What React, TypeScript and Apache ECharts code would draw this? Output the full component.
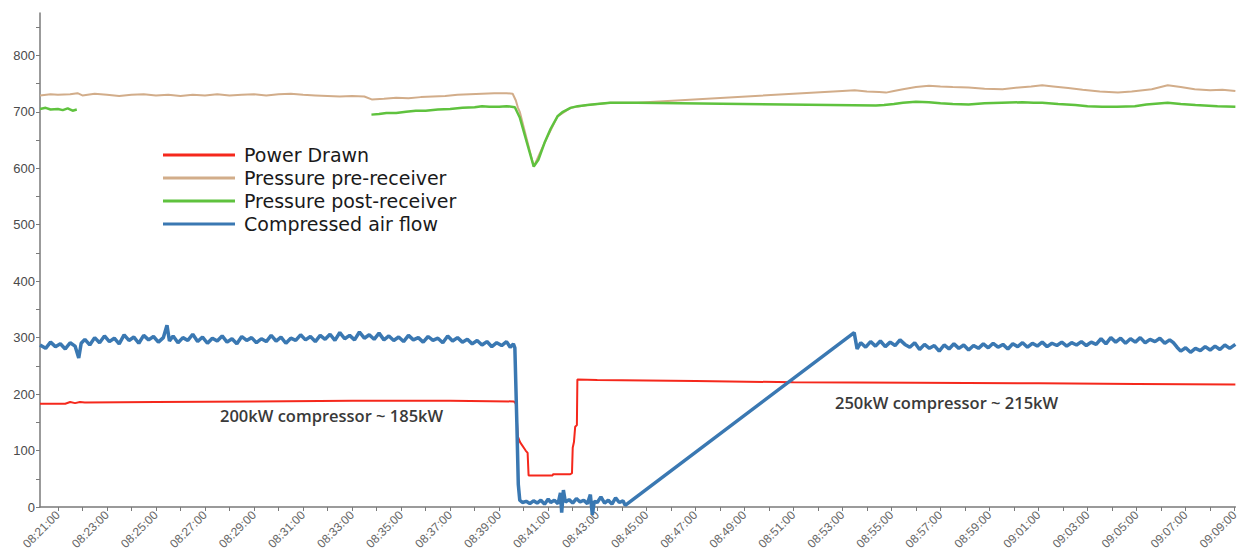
import React, { useEffect, useRef } from "react";
import * as echarts from "echarts";

// time axis: minutes after 08:21:00
const xLabelTimes = [
  "08:21:00", "08:23:00", "08:25:00", "08:27:00", "08:29:00", "08:31:00", "08:33:00",
  "08:35:00", "08:37:00", "08:39:00", "08:41:00", "08:43:00", "08:45:00", "08:47:00",
  "08:49:00", "08:51:00", "08:53:00", "08:55:00", "08:57:00", "08:59:00", "09:01:00",
  "09:03:00", "09:05:00", "09:07:00", "09:09:00",
];
const yLabelValues = [0, 100, 200, 300, 400, 500, 600, 700, 800];
const yTickValues = [0, 50, 100, 150, 200, 250, 300, 350, 400, 450, 500, 550, 600, 650, 700, 750, 800, 850];

const seriesNames = ["Power Drawn", "Pressure pre-receiver", "Pressure post-receiver", "Compressed air flow"];

const powerDrawn: [number, number][] = [
  [-0.73, 183], [0.3, 183], [0.5, 186], [0.7, 184], [0.9, 186], [1.1, 185], [4, 186], [8, 187],
  [12, 188], [16, 188], [18.6, 187], [18.68, 183], [18.76, 125], [18.85, 115], [19.08, 100],
  [19.16, 96], [19.2, 56], [20.0, 56], [20.18, 56], [20.2, 58], [20.9, 58], [20.97, 60],
  [21.0, 105], [21.05, 115], [21.1, 142], [21.17, 145], [21.19, 226], [22, 225], [26, 223],
  [30, 221], [35, 220], [40, 219], [44, 218], [48.03, 217],
];

const pressurePre: [number, number][] = [
  [-0.73, 729], [-0.3, 731], [0, 730], [0.5, 731], [0.8, 733], [1.0, 729], [1.5, 732], [2.0, 730],
  [2.5, 728], [3, 730], [3.5, 731], [4, 729], [4.5, 730], [5, 728], [5.5, 730], [6, 729],
  [6.5, 731], [7, 729], [7.5, 730], [8, 731], [8.5, 729], [9, 731], [9.5, 732], [10, 730],
  [10.5, 729], [11, 728], [11.5, 727], [12, 728], [12.5, 727], [12.8, 722], [13.3, 723],
  [13.8, 725], [14.3, 724], [14.8, 726], [15.3, 727], [15.8, 728], [16.3, 730], [16.8, 731],
  [17.3, 732], [17.8, 733], [18.3, 733], [18.55, 732], [18.68, 720], [18.76, 708], [18.84, 700],
  [19.41, 603], [19.85, 645], [20.38, 692], [20.91, 707], [21.6, 712], [22.53, 716], [23.63, 716],
  [32.0, 737], [32.5, 738], [33.0, 736], [33.5, 735], [33.78, 734], [34.1, 737], [34.47, 740],
  [35.0, 744], [35.53, 746], [36.0, 745], [36.5, 744], [37.15, 743], [37.8, 741], [38.53, 740],
  [39.2, 743], [39.7, 745], [40.15, 747], [40.6, 745], [41.21, 742], [41.8, 739], [42.5, 736],
  [43.24, 734], [43.8, 736], [44.62, 740], [45.27, 747], [45.8, 744], [46.37, 740], [47.0, 738],
  [47.5, 739], [48.03, 737],
];

const pressurePost: [number, number | null][] = [
  [-0.73, 705], [-0.5, 707], [-0.3, 704], [0, 705], [0.2, 703], [0.4, 706], [0.6, 702], [0.77, 704],
  [1.0, null],
  [12.79, 695], [13.1, 696], [13.4, 698], [13.8, 698], [14.2, 700], [14.6, 702], [15.0, 702],
  [15.5, 704], [16.0, 705], [16.5, 707], [17.0, 708], [17.3, 710], [17.6, 709], [18.0, 709],
  [18.3, 710], [18.64, 708], [18.84, 690], [19.1, 650], [19.41, 603], [19.6, 615], [19.85, 645],
  [20.1, 670], [20.38, 692], [20.6, 700], [20.91, 707], [21.2, 710], [21.6, 712], [22.0, 714],
  [22.53, 716], [23.1, 716], [23.63, 716], [33.37, 711], [33.7, 712], [34.1, 714], [34.47, 716],
  [35.0, 718], [35.53, 717], [36.0, 715], [36.5, 714], [37.15, 713], [37.8, 715], [38.5, 716],
  [39.34, 717], [39.8, 716], [40.15, 716], [40.8, 714], [41.5, 712], [42.0, 710], [42.59, 709],
  [43.2, 709], [43.93, 710], [44.4, 713], [45.27, 716], [45.8, 714], [46.4, 712], [47.3, 710],
  [48.03, 709],
];

const airFlow: [number, number][] = [
  [-0.73, 287], [-0.5, 281], [-0.3, 292], [-0.1, 284], [0.1, 289], [0.3, 280], [0.5, 291],
  [0.7, 285], [0.85, 264], [0.95, 290], [1.1, 297], [1.3, 287], [1.5, 300], [1.7, 291],
  [1.9, 303], [2.1, 293], [2.3, 299], [2.5, 289], [2.7, 305], [2.9, 295], [3.1, 301], [3.3, 290],
  [3.5, 304], [3.7, 296], [3.9, 302], [4.1, 292], [4.3, 300], [4.45, 322], [4.55, 294],
  [4.7, 303], [4.9, 291], [5.1, 300], [5.3, 295], [5.5, 306], [5.7, 293], [5.9, 301], [6.1, 290],
  [6.3, 299], [6.5, 294], [6.7, 303], [6.9, 292], [7.1, 298], [7.3, 289], [7.5, 302], [7.7, 295],
  [7.9, 300], [8.1, 291], [8.3, 298], [8.5, 293], [8.7, 304], [8.9, 294], [9.1, 301], [9.3, 290],
  [9.5, 299], [9.7, 295], [9.9, 305], [10.1, 296], [10.3, 302], [10.5, 293], [10.7, 304],
  [10.9, 297], [11.1, 306], [11.3, 295], [11.5, 309], [11.7, 298], [11.9, 304], [12.1, 296],
  [12.3, 310], [12.5, 299], [12.7, 305], [12.9, 297], [13.1, 308], [13.3, 296], [13.5, 303],
  [13.7, 295], [13.9, 301], [14.1, 293], [14.3, 304], [14.5, 296], [14.7, 300], [14.9, 292],
  [15.1, 302], [15.3, 295], [15.5, 299], [15.7, 291], [15.9, 303], [16.1, 294], [16.3, 300],
  [16.5, 292], [16.7, 297], [16.9, 289], [17.1, 295], [17.3, 287], [17.5, 293], [17.7, 284],
  [17.9, 291], [18.1, 286], [18.3, 293], [18.45, 283], [18.58, 289], [18.64, 282], [18.72, 150],
  [18.78, 40], [18.84, 12], [18.95, 8], [19.1, 10], [19.25, 6], [19.4, 11], [19.55, 7],
  [19.7, 12], [19.85, 5], [20.0, 14], [20.1, 8], [20.25, 12], [20.4, 6], [20.5, 25], [20.55, -10],
  [20.62, 30], [20.7, 9], [20.85, 13], [21.0, 7], [21.15, 15], [21.3, 9], [21.45, 12], [21.6, 6],
  [21.72, 22], [21.8, -14], [21.88, 10], [22.0, 8], [22.15, 18], [22.3, 7], [22.45, 12],
  [22.6, 5], [22.75, 16], [22.9, 8], [23.05, 11], [23.14, 3], [32.48, 309], [32.6, 280],
  [32.75, 291], [32.95, 283], [33.15, 293], [33.35, 285], [33.55, 294], [33.75, 284], [33.95, 292],
  [34.15, 286], [34.35, 296], [34.55, 288], [34.75, 283], [34.95, 291], [35.15, 279], [35.35, 288],
  [35.55, 281], [35.75, 286], [35.95, 276], [36.15, 287], [36.35, 280], [36.55, 289], [36.75, 281],
  [36.95, 287], [37.15, 278], [37.35, 286], [37.55, 281], [37.75, 289], [37.95, 282], [38.15, 290],
  [38.35, 283], [38.55, 288], [38.75, 280], [38.95, 289], [39.15, 284], [39.35, 291], [39.55, 283],
  [39.75, 290], [39.95, 285], [40.15, 292], [40.35, 284], [40.55, 290], [40.75, 286], [40.95, 292],
  [41.15, 285], [41.35, 291], [41.55, 287], [41.75, 293], [41.95, 286], [42.15, 292], [42.35, 288],
  [42.55, 298], [42.75, 289], [42.95, 300], [43.15, 292], [43.35, 299], [43.55, 290], [43.75, 298],
  [43.95, 292], [44.15, 300], [44.35, 291], [44.55, 297], [44.75, 293], [44.95, 299], [45.15, 290],
  [45.35, 296], [45.5, 291], [45.65, 283], [45.8, 276], [46.0, 282], [46.2, 274], [46.4, 281],
  [46.6, 277], [46.8, 284], [47.0, 278], [47.2, 285], [47.4, 279], [47.6, 287], [47.8, 281],
  [48.03, 288],
];

const annotations = [
  { text: "200kW compressor ~ 185kW", left: 220, top: 407 },
  { text: "250kW compressor ~ 215kW", left: 835, top: 394 },
];

export default function App() {
  const ref = useRef<HTMLDivElement>(null);
  useEffect(() => {
    if (!ref.current) return;
    const chart = echarts.init(ref.current, null, { renderer: "svg" });
    const colors = ["#f5281c", "#d2ad8a", "#5fc23e", "#3a78b2"];
    const widths = [2, 2, 2.5, 3.5];
    const datas = [powerDrawn, pressurePre, pressurePost, airFlow];
    chart.setOption({
      animation: false,
      backgroundColor: "#ffffff",
      grid: { left: 40, right: 0, top: 13, bottom: 50, containLabel: false },
      legend: {
        orient: "vertical",
        left: 163,
        top: 145,
        padding: 0,
        icon: "rect",
        itemWidth: 72,
        itemHeight: 3,
        itemGap: 3,
        data: seriesNames,
        textStyle: {
          fontFamily: "DejaVu Sans",
          fontSize: 19,
          color: "#1a1a1a",
          lineHeight: 20,
          padding: [0, 0, 0, 4],
        },
      },
      xAxis: {
        type: "value",
        min: -0.73,
        max: 48.03,
        splitLine: { show: false },
        axisLine: { show: true, onZero: false, lineStyle: { color: "#7a7a7a", width: 1.5 } },
        axisTick: {
          show: true,
          length: 4,
          lineStyle: { color: "#7a7a7a" },
          customValues: Array.from({ length: 49 }, (_, i) => i),
        },
        axisLabel: {
          rotate: 45,
          margin: 6,
          fontSize: 12,
          fontFamily: "Liberation Sans",
          color: "#666",
          customValues: xLabelTimes.map((_, i) => i * 2),
          formatter: (v: number) => xLabelTimes[Math.round(v / 2)] ?? "",
        },
      },
      yAxis: {
        type: "value",
        min: 0,
        max: 875,
        splitLine: { show: false },
        axisLine: { show: true, onZero: false, lineStyle: { color: "#7a7a7a", width: 1.5 } },
        axisTick: {
          show: true,
          length: 4,
          lineStyle: { color: "#7a7a7a" },
          customValues: yTickValues,
        },
        axisLabel: {
          margin: 5,
          fontSize: 13,
          fontFamily: "Liberation Sans",
          color: "#4a4a4a",
          customValues: yLabelValues,
        },
      },
      graphic: annotations.map((a) => ({
        type: "text",
        left: a.left,
        top: a.top,
        style: {
          text: a.text,
          fontFamily: "Open Sans",
          fontWeight: 600,
          fontSize: 16.5,
          fill: "#3a3a3a",
        },
      })),
      series: seriesNames.map((name, i) => ({
        name,
        type: "line",
        data: datas[i],
        showSymbol: false,
        clip: false,
        color: colors[i],
        lineStyle: { color: colors[i], width: widths[i] },
        itemStyle: { color: colors[i] },
        z: 2 + i,
      })),
    });
    return () => chart.dispose();
  }, []);
  return (
    <div
      ref={ref}
      style={{ position: "fixed", left: 0, top: 0, width: 1241, height: 557, background: "#fff" }}
    />
  );
}
